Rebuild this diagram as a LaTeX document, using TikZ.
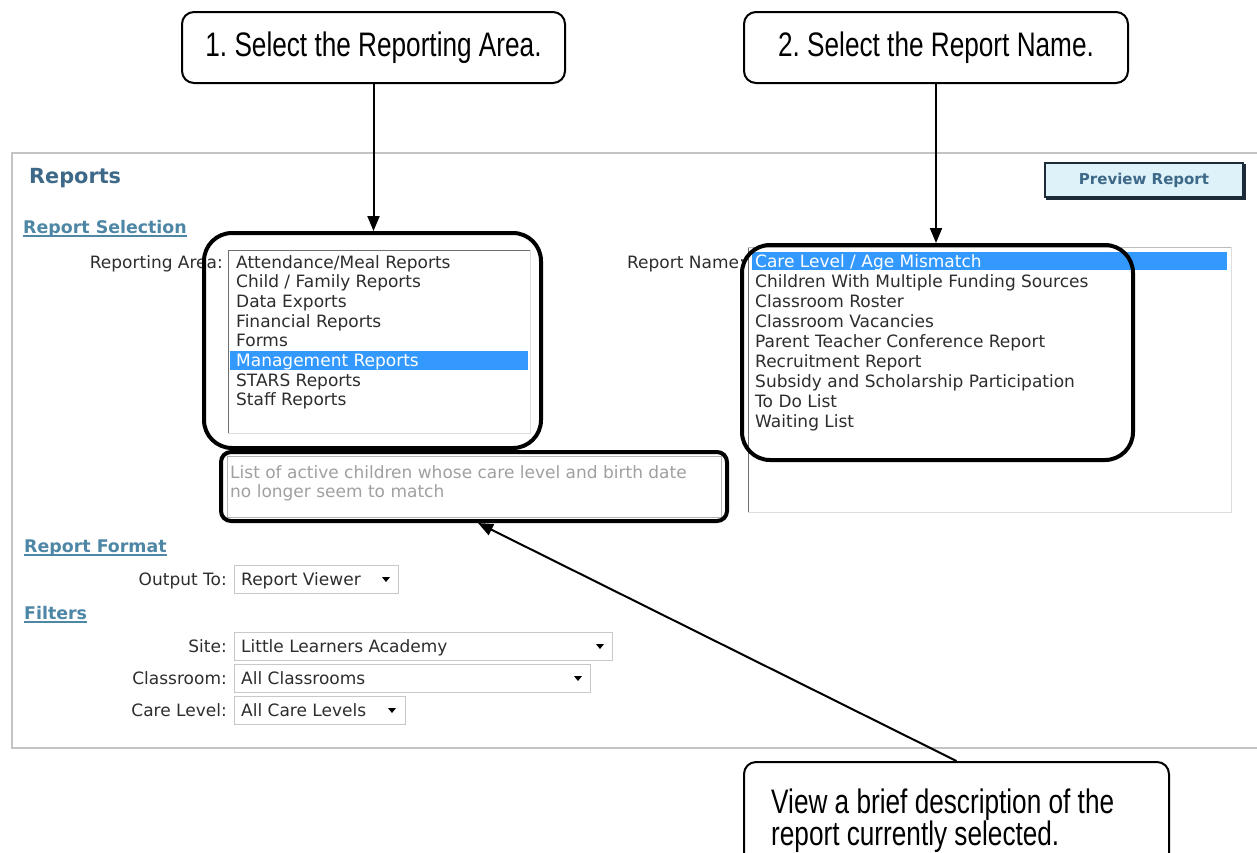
\documentclass[tikz,border=0pt]{standalone}
\usepackage{fontspec}
\setmainfont{DejaVu Sans}
\newfontfamily\callfont[FakeStretch=0.77]{Liberation Sans}
\usetikzlibrary{arrows.meta}
\definecolor{hdr}{RGB}{62,104,136}
\definecolor{sec}{RGB}{78,134,166}
\definecolor{lbl}{RGB}{45,45,45}
\definecolor{sel}{RGB}{51,153,255}
\definecolor{desctext}{RGB}{160,160,160}
\definecolor{btnfill}{RGB}{222,242,250}
\definecolor{btnline}{RGB}{28,43,56}
\definecolor{panelc}{RGB}{196,196,196}
\definecolor{boxdark}{RGB}{110,110,110}
\definecolor{boxlight}{RGB}{222,222,222}
\definecolor{ddline}{RGB}{200,200,200}
\frenchspacing
\begin{document}
\begin{tikzpicture}[x=1pt,y=-1pt,
  ui/.style={font=\fontsize{17}{20}\selectfont, text=lbl, inner sep=0pt, anchor=base west},
  uilabel/.style={font=\fontsize{17}{20}\selectfont, text=lbl, inner sep=0pt, anchor=base east},
  seltext/.style={font=\fontsize{17}{20}\selectfont, text=white, inner sep=0pt, anchor=base west},
  sechead/.style={font=\bfseries\fontsize{17.4}{20}\selectfont, text=sec, inner sep=0pt, anchor=base west},
  ddbox/.style={draw=ddline, line width=1pt, fill=white, inner sep=0pt, anchor=north west},
  hlbox/.style={draw=black, line width=4pt, rounded corners=28pt, inner sep=0pt},
  callout/.style={draw=black, line width=2pt, rounded corners=12pt, fill=white, inner sep=0pt,
    font=\callfont\fontsize{34}{32}\selectfont},
  calltext/.style={inner sep=0pt, font=\callfont\fontsize{34}{32}\selectfont},
  arr/.style={-{Triangle[length=15pt,width=12pt]}, line width=2pt}
]
\useasboundingbox (0,0) rectangle (1257,852);
\clip (0,0) rectangle (1257,852);

% panel
\draw[panelc, line width=2pt] (1257,153) -- (12,153) -- (12,748) -- (1257,748);

% title and sections
\node[anchor=base west, inner sep=0pt, font=\bfseries\fontsize{20.8}{24}\selectfont, text=hdr] (title) at (29,183) {Reports};
\node[sechead] (s1) at (23,233) {Report Selection};
\draw[sec, line width=1.3pt] ([yshift=-3pt]s1.base west) -- ([yshift=-3pt]s1.base east);
\node[sechead] (s2) at (24,552) {Report Format};
\draw[sec, line width=1.3pt] ([yshift=-3pt]s2.base west) -- ([yshift=-3pt]s2.base east);
\node[sechead] (s3) at (24,619) {Filters};
\draw[sec, line width=1.3pt] ([yshift=-3pt]s3.base west) -- ([yshift=-3pt]s3.base east);

% preview button
\draw[btnline, line width=2pt] (1047,165) rectangle (1245,199);
\node[draw=btnline, line width=2pt, fill=btnfill, minimum width=198pt, minimum height=34pt, inner sep=0pt,
  font=\bfseries\fontsize{15}{18}\selectfont, text=hdr] (btn) at (1144,180) {Preview Report};

% reporting area list
\node[uilabel] (lra) at (223,268) {Reporting Area:};
\fill[white] (228,250) rectangle (530,433);
\draw[boxlight, line width=1pt] (530,250) -- (530,433) -- (228,433);
\draw[boxdark, line width=1pt] (228,433) -- (228,250) -- (530,250);
\fill[sel] (230,351) rectangle (528,370);
\node[ui] (a1) at (236,268) {Attendance/Meal Reports};
\node[ui] (a2) at (236,287.7) {Child / Family Reports};
\node[ui] (a3) at (236,307.4) {Data Exports};
\node[ui] (a4) at (236,327.1) {Financial Reports};
\node[ui] (a5) at (236,346.8) {Forms};
\node[seltext] (a6) at (236,366.5) {Management Reports};
\node[ui] (a7) at (236,386.2) {STARS Reports};
\node[ui] (a8) at (236,405.9) {Staff Reports};

% report name list
\node[uilabel] (lrn) at (745,268) {Report Name:};
\fill[white] (748,247) rectangle (1231,512);
\draw[boxlight, line width=1pt] (1231,247) -- (1231,512) -- (748,512);
\draw[boxdark, line width=1pt] (748,512) -- (748,247);
\draw[boxlight!70!boxdark, line width=1pt] (748,247) -- (1231,247);
\fill[sel] (752,252) rectangle (1227,270);
\node[seltext] (b1) at (755,267) {Care Level / Age Mismatch};
\node[ui] (b2) at (755,287) {Children With Multiple Funding Sources};
\node[ui] (b3) at (755,307) {Classroom Roster};
\node[ui] (b4) at (755,327) {Classroom Vacancies};
\node[ui] (b5) at (755,347) {Parent Teacher Conference Report};
\node[ui] (b6) at (755,367) {Recruitment Report};
\node[ui] (b7) at (755,387) {Subsidy and Scholarship Participation};
\node[ui] (b8) at (755,407) {To Do List};
\node[ui] (b9) at (755,427) {Waiting List};

% description box
\draw[fill=white, draw=desctext!80, line width=1pt] (227,456) rectangle (721,517);
\node[ui, text=desctext] (d1) at (230,478) {List of active children whose care level and birth date};
\node[ui, text=desctext] (d2) at (230,497) {no longer seem to match};

% output / filters
\node[uilabel] (lout) at (227,585) {Output To:};
\node[ddbox, minimum width=164pt, minimum height=28pt] (ddout) at (234,565) {};
\node[ui] (tout) at (241,585) {Report Viewer};
\fill[black] (382,577) -- (390,577) -- (386,582) -- cycle;

\node[uilabel] (lsite) at (227,652) {Site:};
\node[ddbox, minimum width=378pt, minimum height=28pt] (ddsite) at (234,632) {};
\node[ui] (tsite) at (241,652) {Little Learners Academy};
\fill[black] (596,644) -- (604,644) -- (600,649) -- cycle;

\node[uilabel] (lcls) at (227,684) {Classroom:};
\node[ddbox, minimum width=356pt, minimum height=28pt] (ddcls) at (234,664) {};
\node[ui] (tcls) at (241,684) {All Classrooms};
\fill[black] (574,676) -- (582,676) -- (578,681) -- cycle;

\node[uilabel] (lcare) at (227,716) {Care Level:};
\node[ddbox, minimum width=171pt, minimum height=28pt] (ddcare) at (234,696) {};
\node[ui] (tcare) at (241,716) {All Care Levels};
\fill[black] (388,708) -- (396,708) -- (392,713) -- cycle;

% black highlight boxes
\node[hlbox, minimum width=337pt, minimum height=215pt] (hlA) at (372.5,340.5) {};
\node[hlbox, minimum width=391pt, minimum height=215pt] (hlB) at (937.5,352.5) {};
\node[hlbox, rounded corners=10pt, minimum width=506pt, minimum height=69pt] (hlD) at (474,486.5) {};

% callouts
\node[callout, minimum width=383pt, minimum height=71pt] (c1) at (373.5,47.5) {1. Select the Reporting Area.};
\node[callout, minimum width=384pt, minimum height=71pt] (c2) at (936,47.5) {2. Select the Report Name.};
\node[callout, minimum width=425pt, minimum height=121pt] (c3) at (956.5,822.5) {};
\node[calltext, anchor=base west] (c3a) at (771,813) {View a brief description of the};
\node[calltext, anchor=base west] (c3b) at (771,845) {report currently selected.};

% connectors
\draw[arr] (c1.south) -- (c1.south |- hlA.north);
\draw[arr] (c2.south) -- (c2.south |- hlB.north);
\draw[arr] (c3.north) -- ([xshift=4pt]hlD.south);
\end{tikzpicture}
\end{document}
